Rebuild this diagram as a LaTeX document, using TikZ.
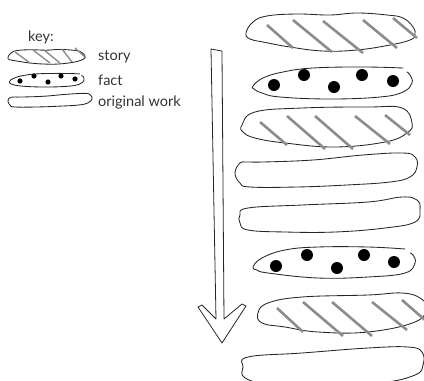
\documentclass[tikz,border=0pt]{standalone}
\usepackage{fontspec}
\setmainfont{Lato}
\begin{document}
\begin{tikzpicture}[x=1pt,y=-1pt,
  outline/.style={line width=0.85pt, draw=black!85, line join=round, line cap=round},
  hatch/.style={line width=2.6pt, draw=black!45},
  keyhatch/.style={line width=1.4pt, draw=black!45},
  bigdot/.style={fill=black},
  keytext/.style={anchor=west, inner sep=0pt, font=\fontsize{14.5}{16}\selectfont, text=black!80},
  storyshape/.pic={\draw[outline] plot[smooth cycle, tension=0.7] coordinates
    {(0,0.55) (0.04,0.26) (0.12,0.1) (0.30,0.05) (0.49,0.08) (0.65,0.03) (0.83,0.08) (0.92,0.16) (0.98,0.39) (0.99,0.58) (0.96,0.7) (0.85,0.87) (0.65,1) (0.45,1.0) (0.26,0.92) (0.10,0.79) (0.02,0.71)};},
  factshape/.pic={\draw[outline] plot[smooth, tension=0.7] coordinates
    {(0.94,0.06) (0.69,0.03) (0.38,0.06) (0.19,0.18) (0.07,0.36) (0.01,0.58) (0.03,0.79) (0.18,0.94) (0.49,1.0) (0.8,0.94) (0.94,0.79) (1,0.52) (0.99,0.27) (0.97,0.18)};},
  origshape/.pic={\draw[outline] plot[smooth cycle, tension=0.7] coordinates
    {(0.03,0.31) (0,0.6) (0.03,0.89) (0.08,1) (0.34,1) (0.61,0.94) (0.84,0.86) (0.95,0.71) (1,0.43) (0.98,0.14) (0.92,0.03) (0.70,0.09) (0.43,0.23) (0.15,0.29)};}
]
\useasboundingbox (0,0) rectangle (424,381);
\clip (0,0) rectangle (424,381);

% ---------- key ----------
\node[keytext] (keylabel) at (28,37) {key:};
\pic[shift={(8,49)}, xscale=78, yscale=15] {storyshape};
\foreach \a/\b in {{(15,52)/(30,63)},{(33,50)/(50,63)},{(44,50)/(60,63)},{(62,49)/(72,62)},{(75,48)/(85,57)}}
  \draw[keyhatch] \a -- \b;
\node[keytext] (storylabel) at (98,57) {story};

\pic[shift={(9,73)}, xscale=75, yscale=14] {factshape};
\foreach \p in {(20,81),(34,76),(48,82),(61,76),(75,79)}
  \fill[bigdot] \p circle[radius=2.6pt];
\node[keytext] (factlabel) at (98,80) {fact};

\pic[shift={(8,93)}, xscale=84, yscale=14] {origshape};
\node[keytext] (origlabel) at (98,102) {original work};

% ---------- arrow ----------
\draw[outline, line width=0.8pt, fill=white]
  (211,49) -- (222,51) -- (224,319) -- (242,304) -- (246,306) -- (222,343)
  -- (198,307) -- (202,305) -- (216,319) -- cycle;

% ---------- blob 1: story ----------
\draw[outline] plot[smooth cycle, tension=0.7] coordinates
  {(246,33) (253,22) (267,16) (297,14) (330,15) (357,13) (387,15) (403,18) (413,27) (415,35) (410,40) (390,45) (357,50) (323,51) (290,47) (263,42) (250,39)};
\draw[hatch] (267,25) -- (293,48);
\draw[hatch] (293,20) -- (332,52);
\draw[hatch] (323,21) -- (363,53);
\draw[hatch] (363,20) -- (397,48);
\draw[hatch] (393,18) -- (417,38);

% ---------- blob 2: fact ----------
\draw[outline] plot[smooth, tension=0.7] coordinates
  {(403,68) (363,67) (313,68) (283,72) (263,78) (253,86) (254,89) (262,93) (280,97) (330,99) (380,97) (403,92) (412,83) (410,75) (407,72)};
\foreach \p in {(274,85),(304,75),(334,87),(362,75),(393,81)}
  \fill[bigdot] \p circle[radius=6pt];

% ---------- blob 3: story ----------
\draw[outline] plot[smooth cycle, tension=0.7] coordinates
  {(242,125) (255,112) (302,108) (368,107) (402,108) (412,123) (407,133) (385,142) (335,147) (285,143) (255,138) (243,132)};
\draw[hatch] (260,122) -- (287,145);
\draw[hatch] (287,116) -- (325,149);
\draw[hatch] (315,116) -- (353,149);
\draw[hatch] (355,116) -- (390,144);
\draw[hatch] (385,115) -- (410,135);

% ---------- blob 4: original ----------
\draw[outline] plot[smooth cycle, tension=0.7] coordinates
  {(240,163) (235,173) (240,183) (250,187) (297,187) (347,185) (390,182) (410,177) (417,167) (415,157) (403,153) (363,155) (313,160) (263,162) (247,162)};

% ---------- blob 5: original ----------
\draw[outline] plot[smooth cycle, tension=0.7] coordinates
  {(240,215) (248,208) (302,205) (368,202) (402,197) (417,200) (420,210) (415,222) (385,228) (335,232) (285,232) (248,230) (240,223)};

% ---------- blob 6: fact ----------
\draw[outline] plot[smooth, tension=0.7] coordinates
  {(405,249) (368,247) (318,247) (285,250) (262,258) (253,267) (257,270) (268,273) (318,278) (368,277) (405,273) (415,263) (413,255) (410,253)};
\foreach \p in {(276,266),(307,255),(337,268),(364,255),(394,262)}
  \fill[bigdot] \p circle[radius=6pt];

% ---------- blob 7: story ----------
\draw[outline] plot[smooth cycle, tension=0.7] coordinates
  {(258,313) (268,303) (302,297) (368,295) (402,293) (420,298) (426,308) (415,322) (368,332) (318,332) (285,327) (262,323)};
\draw[hatch] (277,308) -- (303,332);
\draw[hatch] (303,302) -- (343,336);
\draw[hatch] (332,302) -- (372,336);
\draw[hatch] (372,302) -- (407,330);
\draw[hatch] (402,300) -- (425,320);

% ---------- blob 8: original ----------
\draw[outline] plot[smooth cycle, tension=0.7] coordinates
  {(248,357) (243,367) (245,378) (270,384) (320,386) (380,383) (415,375) (423,365) (422,352) (408,347) (368,348) (302,353)};
\end{tikzpicture}
\end{document}
